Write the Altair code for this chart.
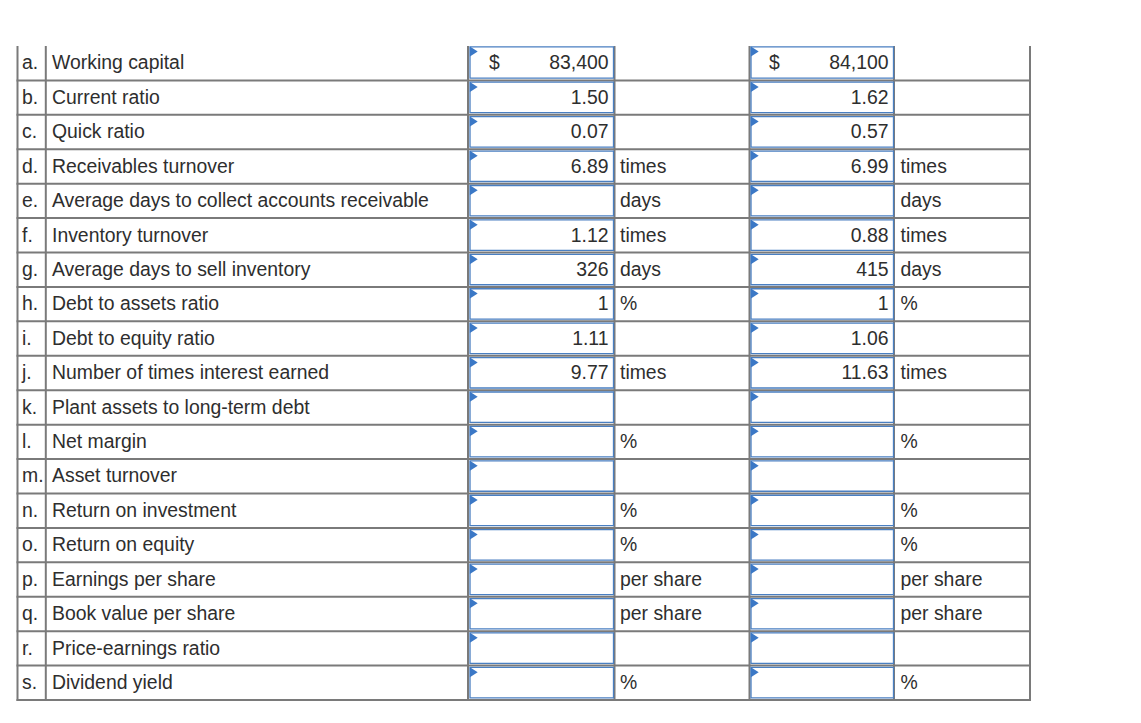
import altair as alt
import pandas as pd

# ---------------- data ----------------
letters = ["a.", "b.", "c.", "d.", "e.", "f.", "g.", "h.", "i.", "j.",
           "k.", "l.", "m.", "n.", "o.", "p.", "q.", "r.", "s."]
labels = ["Working capital", "Current ratio", "Quick ratio", "Receivables turnover",
          "Average days to collect accounts receivable", "Inventory turnover",
          "Average days to sell inventory", "Debt to assets ratio", "Debt to equity ratio",
          "Number of times interest earned", "Plant assets to long-term debt", "Net margin",
          "Asset turnover", "Return on investment", "Return on equity", "Earnings per share",
          "Book value per share", "Price-earnings ratio", "Dividend yield"]
values_year1 = ["83,400", "1.50", "0.07", "6.89", "", "1.12", "326", "1", "1.11", "9.77",
                "", "", "", "", "", "", "", "", ""]
values_year2 = ["84,100", "1.62", "0.57", "6.99", "", "0.88", "415", "1", "1.06", "11.63",
                "", "", "", "", "", "", "", "", ""]
units_year1 = ["", "", "", "times", "days", "times", "days", "%", "", "times",
               "", "%", "", "%", "%", "per share", "per share", "", "%"]
units_year2 = ["", "", "", "times", "days", "times", "days", "%", "", "times",
               "", "%", "", "%", "%", "per share", "per share", "", "%"]
currency_rows = ["a."]

# ---------------- layout ----------------
W, H = 1125, 700
TOP, BOTTOM = 46.0, 700.0
N = len(letters)
ROW_H = (BOTTOM - TOP) / N
edges = [TOP + i * ROW_H for i in range(N + 1)]

GRID = "#7a7a7a"
BLUE = "#4a7fc1"
FLAG = "#3b78c6"
TXT = "#2e2e2e"
FONT = "Liberation Sans"
FS = 19.4

V_LINES = [17.5, 45.8, 468.0, 614.5, 749.5, 894.0, 1030.0]
BOX_COLS = [(470.0, 613.5), (751.0, 893.5)]
DOLLAR_X = [494.5, 774.5]
VALUE_RIGHT = [608.5, 888.5]
UNIT_LEFT = [620.0, 900.5]

xs = alt.Scale(domain=[8, 8 + W], nice=False, zero=False)
ys = alt.Scale(domain=[8, 8 + H], nice=False, zero=False, reverse=True)


def X(f):
    return alt.X(f, type="quantitative", scale=xs, axis=None)


def Y(f):
    return alt.Y(f, type="quantitative", scale=ys, axis=None)


# grid lines
hdf = pd.DataFrame({"y": edges[1:], "x": 16.5, "x2": 1031.0})
hlines = alt.Chart(hdf).mark_rule(color=GRID, strokeWidth=2).encode(
    x=X("x"), x2="x2", y=Y("y"))
vdf = pd.DataFrame({"x": V_LINES, "y": TOP, "y2": BOTTOM + 1})
vlines = alt.Chart(vdf).mark_rule(color=GRID, strokeWidth=2).encode(
    x=X("x"), y=Y("y"), y2="y2")

# input boxes
box_rows = []
for r in range(N):
    top = edges[r] + (0.8 if r == 0 else 1.8)
    bot = edges[r + 1] - 2.2
    for (x0, x1) in BOX_COLS:
        box_rows.append({"x": x0, "x2": x1, "y": top, "y2": bot,
                         "fx": x0 + 3.8, "fy": top + 4.8})
bdf = pd.DataFrame(box_rows)
boxes_outer = alt.Chart(bdf).mark_rect(fill="white", stroke=BLUE, strokeWidth=1.3).encode(
    x=X("x"), x2="x2", y=Y("y"), y2="y2")
flags = alt.Chart(bdf).mark_point(
    shape="M-0.78,-1L0.78,0L-0.78,1Z", filled=True, color=FLAG, opacity=1, size=100,
    strokeWidth=0).encode(x=X("fx"), y=Y("fy"))

# text
rows = pd.DataFrame({"letter": letters, "label": labels,
                     "v1": values_year1, "v2": values_year2,
                     "u1": units_year1, "u2": units_year2})
rows["base"] = [(edges[i] + edges[i + 1]) / 2 + 6.2 for i in range(N)]


def text_layer(df, field, xpos, align):
    d = df[df[field] != ""].copy()
    d["xp"] = xpos
    return alt.Chart(d).mark_text(
        align=align, baseline="alphabetic", font=FONT, fontSize=FS, color=TXT
    ).encode(x=X("xp"), y=Y("base"), text=alt.Text(f"{field}:N"))


layers = [hlines, vlines, boxes_outer, flags,
          text_layer(rows, "letter", 22.0, "left"),
          text_layer(rows, "label", 52.0, "left"),
          text_layer(rows, "v1", VALUE_RIGHT[0], "right"),
          text_layer(rows, "v2", VALUE_RIGHT[1], "right"),
          text_layer(rows, "u1", UNIT_LEFT[0], "left"),
          text_layer(rows, "u2", UNIT_LEFT[1], "left")]

cur = rows[rows["letter"].isin(currency_rows)].copy()
cur["sym"] = "$"
for xp in DOLLAR_X:
    layers.append(text_layer(cur, "sym", xp, "center"))

chart = alt.layer(*layers).properties(
    width=W, height=H, padding=0,
    autosize=alt.AutoSizeParams(type="none"),
).configure_view(stroke=None)

chart.save("out.html", embed_options={"renderer": "svg", "actions": False})
